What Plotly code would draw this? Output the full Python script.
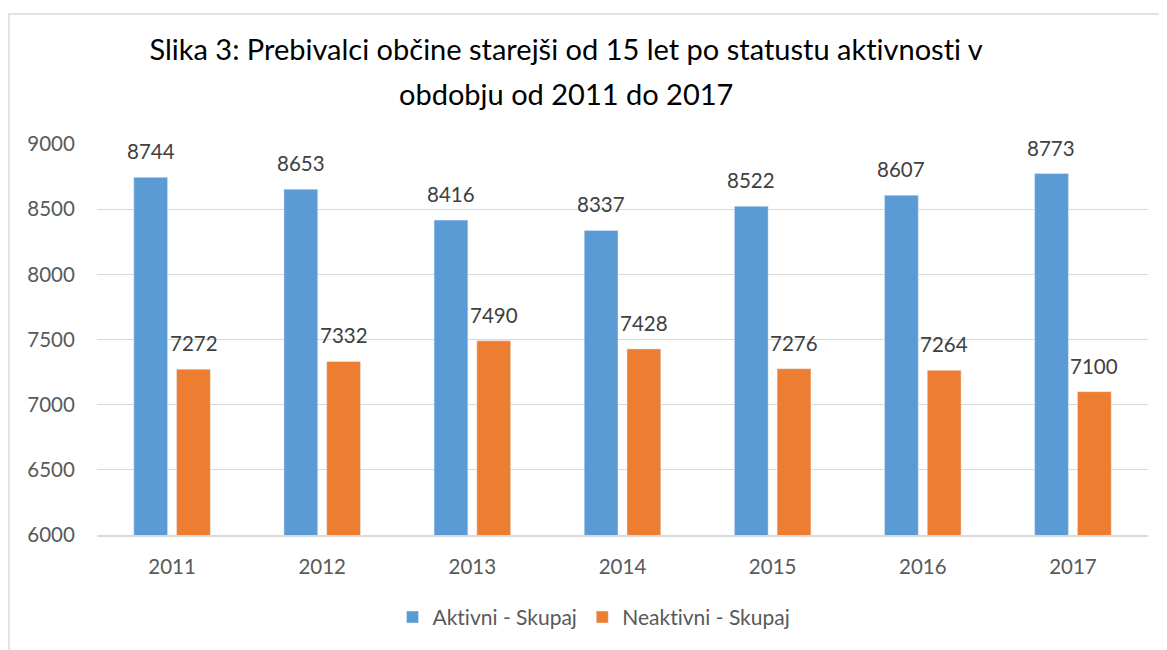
import plotly.graph_objects as go

years = ["2011", "2012", "2013", "2014", "2015", "2016", "2017"]
aktivni = [8744, 8653, 8416, 8337, 8522, 8607, 8773]
neaktivni = [7272, 7332, 7490, 7428, 7276, 7264, 7100]
series_names = ["Aktivni - Skupaj", "Neaktivni - Skupaj"]
title_lines = ["Slika 3: Prebivalci občine starejši od 15 let po statustu aktivnosti v",
               "obdobju od 2011 do 2017"]

W, H = 1159, 642
ML, MR, MT, MB = 89, 19, 136, 112
FONT = "Lato, Open Sans, sans-serif"
pw = W - ML - MR
ph = H - MT - MB

fig = go.Figure()
colors = ["#5B9BD5", "#ED7D31"]
for name, vals, col in zip(series_names, [aktivni, neaktivni], colors):
    fig.add_trace(go.Bar(x=years, y=vals, name=name, marker_color=col))

# data labels as annotations, placed with the axis scale
for ti, vals in enumerate([aktivni, neaktivni]):
    for i, (yr, v) in enumerate(zip(years, vals)):
        fig.add_annotation(x=i + (-0.143 if ti == 0 else 0.143), y=v, xref="x", yref="y",
                           text=str(v), showarrow=False, yanchor="middle", yshift=26,
                           font=dict(size=20.5, color="#404040", family=FONT))

fig.add_shape(type="rect", xref="paper", yref="paper",
              x0=(1 - ML) / pw, x1=(W + 20 - ML) / pw,
              y0=-(MB + 20) / ph, y1=(H - MB - 5) / ph,
              line=dict(color="#d9d9d9", width=1.5), fillcolor="rgba(0,0,0,0)")

for k, (line, ypix) in enumerate(zip(title_lines, [40, 85])):
    fig.add_annotation(text=line, xref="paper", yref="paper",
                       x=(558 - ML) / pw, y=(H - MB - ypix) / ph,
                       xanchor="center", yanchor="middle", showarrow=False,
                       font=dict(size=29, color="#000000", family=FONT))

fig.update_layout(
    width=W, height=H,
    margin=dict(l=ML, r=MR, t=MT, b=MB),
    paper_bgcolor="white", plot_bgcolor="white",
    barmode="group", bargap=0.43, bargroupgap=0.21,
    font=dict(family=FONT, color="#595959", size=20),
    showlegend=True,
    legend=dict(orientation="h", x=(586 - ML) / pw, xanchor="center",
                y=-83 / ph, yanchor="middle",
                font=dict(size=21, color="#595959", family=FONT)),
)
fig.update_yaxes(range=[6000, 9000], dtick=500, showgrid=True, gridcolor="#d9d9d9",
                 gridwidth=1.2, zeroline=False, ticks="outside", ticklen=17,
                 tickcolor="rgba(0,0,0,0)", tickfont=dict(size=20.5, color="#595959"))
fig.update_xaxes(showline=True, linecolor="#d9d9d9", linewidth=2, ticks="outside",
                 ticklen=12, tickcolor="rgba(0,0,0,0)",
                 tickfont=dict(size=20.5, color="#595959"))

post = ("var s=document.createElement('style');"
        "s.textContent='text{font-variant-ligatures:none !important;}';"
        "document.head.appendChild(s);")
fig.write_html("out.html", post_script=post)
